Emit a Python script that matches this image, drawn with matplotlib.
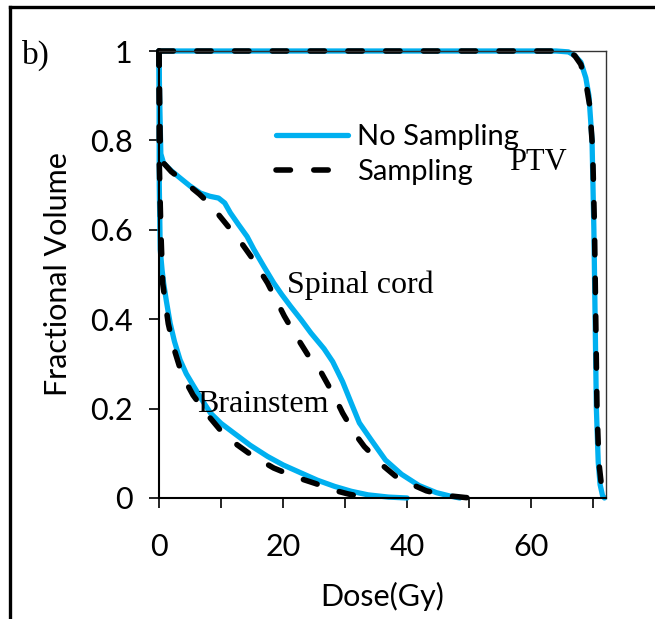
import numpy as np
import matplotlib
matplotlib.use("Agg")
import matplotlib.pyplot as plt
from matplotlib.lines import Line2D
from matplotlib.ticker import MultipleLocator

# dose-volume histogram values (dose in Gy, fractional volume)
ptv_dose_ns = [0, 64, 66, 67, 68, 68.8, 69.3, 69.8, 70.1, 70.3, 70.5, 70.8, 71.1, 71.5, 71.8]
ptv_vol_ns = [1, 1, 0.998, 0.99, 0.975, 0.94, 0.9, 0.8, 0.6, 0.4, 0.2, 0.08, 0.03, 0.005, 0]
ptv_dose_s = [0, 64, 66, 67, 68, 68.8, 69.4, 69.9, 70.2, 70.4, 70.6, 70.9, 71.3, 71.7, 72]
ptv_vol_s = [1, 1, 0.997, 0.99, 0.97, 0.93, 0.88, 0.78, 0.6, 0.4, 0.2, 0.08, 0.03, 0.005, 0]

cord_dose_ns = [0, 0.1, 0.3, 0.74, 2, 3.4, 5, 6.7, 8.2, 9.6, 10.6, 11.5, 12.8, 14.2, 15.3, 16.9,
                18.5, 19.8, 21.2, 22.9, 24.5, 26.6, 28.0, 29.6, 31.0, 32.3, 34.2, 36.5, 39.1,
                41.9, 44.7, 47, 48.5]
cord_vol_ns = [1, 0.9, 0.77, 0.749, 0.732, 0.716, 0.698, 0.682, 0.675, 0.671, 0.66, 0.638, 0.612,
               0.585, 0.556, 0.518, 0.481, 0.455, 0.429, 0.399, 0.369, 0.334, 0.305, 0.26, 0.212,
               0.168, 0.13, 0.085, 0.053, 0.028, 0.012, 0.004, 0]
cord_dose_s = [0, 0.2, 0.7, 2, 4.3, 6.5, 8, 9.6, 11, 12.9, 14.8, 17.5, 20.2, 21.8, 24.5, 26.1,
               28.3, 29.6, 31.5, 33.1, 36.3, 38.2, 40, 43.1, 46, 49.4, 50.5]
cord_vol_s = [1, 0.8, 0.75, 0.73, 0.705, 0.68, 0.66, 0.634, 0.61, 0.578, 0.541, 0.481, 0.407,
              0.369, 0.309, 0.282, 0.227, 0.19, 0.145, 0.115, 0.07, 0.048, 0.035, 0.016, 0.006,
              0.001, 0]

brain_dose_ns = [0, 0.05, 0.2, 0.5, 0.75, 1.2, 1.8, 2.5, 3.4, 4.4, 5.6, 7, 8.3, 10, 12.1, 14.7,
                 17.5, 20, 22.9, 25.5, 28.3, 31, 33.7, 37, 40]
brain_vol_ns = [1, 0.7, 0.556, 0.51, 0.481, 0.44, 0.391, 0.35, 0.309, 0.278, 0.25, 0.218, 0.19,
                0.167, 0.145, 0.118, 0.093, 0.074, 0.056, 0.04, 0.026, 0.015, 0.007, 0.002, 0]
brain_dose_s = [0, 0.05, 0.3, 0.6, 1.5, 2.4, 3.4, 4.4, 5.5, 7.6, 10, 12.6, 15, 18.5, 22, 25.3,
                28, 30.5, 32.2, 34]
brain_vol_s = [1, 0.75, 0.6, 0.48, 0.39, 0.335, 0.29, 0.258, 0.23, 0.19, 0.15, 0.119, 0.095,
               0.067, 0.047, 0.032, 0.018, 0.009, 0.004, 0]

blue = '#00B0F0'
sans = ['Lato', 'DejaVu Sans']
serif = ['Liberation Serif', 'DejaVu Serif']

fig = plt.figure(figsize=(6.55, 6.19), dpi=100)
ax = fig.add_axes([0.2427, 0.1955, 0.6820, 0.7221])

dash_kw = dict(color='black', lw=4.0, ls=(0, (2.6, 4.2)), dash_capstyle='round', solid_capstyle='round')
solid_kw = dict(color=blue, lw=3.8, solid_capstyle='round', solid_joinstyle='round')

for d, v in [(ptv_dose_ns, ptv_vol_ns), (cord_dose_ns, cord_vol_ns), (brain_dose_ns, brain_vol_ns)]:
    ax.plot(d, v, clip_on=False, **solid_kw)
for d, v in [(ptv_dose_s, ptv_vol_s), (cord_dose_s, cord_vol_s), (brain_dose_s, brain_vol_s)]:
    ax.plot(d, v, clip_on=False, **dash_kw)

ax.set_xlim(0, 72)
ax.set_ylim(0, 1)

# legend
handles = [Line2D([], [], **solid_kw), Line2D([], [], **dash_kw)]
ax.legend(handles, ['No Sampling', 'Sampling'], loc='upper left', bbox_to_anchor=(0.204, 0.895),
          frameon=False, handlelength=2.45, handletextpad=0.3, labelspacing=0.3,
          prop={'family': sans, 'size': 21})

ax.text(65.8, 0.75, 'PTV', family=serif, fontsize=22, ha='right', va='center')
ax.text(20.6, 0.475, 'Spinal cord', family=serif, fontsize=23, ha='left', va='center')
ax.text(6.2, 0.21, 'Brainstem', family=serif, fontsize=23, ha='left', va='center')

ax.set_xticks([0, 20, 40, 60])
ax.xaxis.set_minor_locator(MultipleLocator(10))
ax.set_yticks([0, 0.2, 0.4, 0.6, 0.8, 1])
ax.set_yticklabels(['0', '0.2', '0.4', '0.6', '0.8', '1'])
ax.tick_params(axis='both', which='both', direction='out', length=7, width=1.2, color='black')
ax.tick_params(axis='x', which='both', pad=18)
ax.tick_params(axis='y', pad=12)
for lab in ax.get_xticklabels() + ax.get_yticklabels():
    lab.set_family(sans)
    lab.set_fontsize(22)

for s in ['left', 'bottom']:
    ax.spines[s].set_linewidth(1.5)
for s in ['top', 'right']:
    ax.spines[s].set_linewidth(1.0)
    ax.spines[s].set_color('#333333')

ax.set_xlabel('Dose(Gy)', family=sans, fontsize=22, labelpad=15)
ax.set_ylabel('Fractional Volume', family=sans, fontsize=22, labelpad=13)

fig.text(22 / 655, 1 - 55 / 619, 'b)', family=serif, fontsize=24, ha='left', va='center')

# outer frame (top and left only, picture is cropped)
fig.add_artist(Line2D([9.5 / 655, 9.5 / 655], [0, 1 - 7 / 619], color='black', lw=2.4,
                      transform=fig.transFigure))
fig.add_artist(Line2D([9.5 / 655, 1], [1 - 7 / 619, 1 - 7 / 619], color='black', lw=2.4,
                      transform=fig.transFigure))

fig.savefig('out.png', dpi=100)
